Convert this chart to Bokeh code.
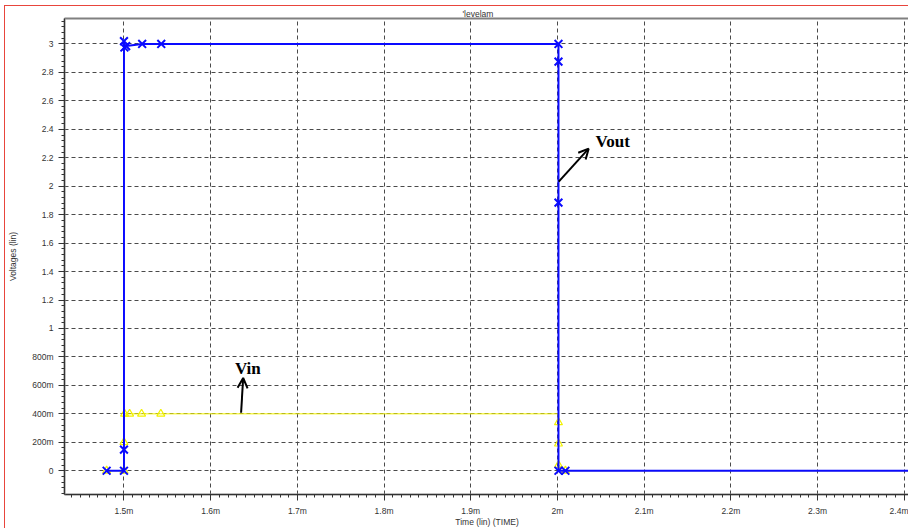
import numpy as np
from bokeh.plotting import figure
from bokeh.models import (LinearAxis, FixedTicker, Grid, Range1d, Arrow,
                          OpenHead, Label)
from bokeh.embed import file_html
from bokeh.resources import INLINE

# ---------------- data ----------------
title_text = "'levelam"
x_label = "Time (lin) (TIME)"
y_label = "Voltages (lin)"

x_ticks = [1.5, 1.6, 1.7, 1.8, 1.9, 2.0, 2.1, 2.2, 2.3, 2.4]
x_tick_labels = ["1.5m", "1.6m", "1.7m", "1.8m", "1.9m", "2m", "2.1m", "2.2m", "2.3m", "2.4m"]
y_ticks = [0.0, 0.2, 0.4, 0.6, 0.8, 1.0, 1.2, 1.4, 1.6, 1.8, 2.0, 2.2, 2.4, 2.6, 2.8, 3.0]
y_tick_labels = ["0", "200m", "400m", "600m", "800m", "1", "1.2", "1.4", "1.6", "1.8",
                 "2", "2.2", "2.4", "2.6", "2.8", "3"]

# Vout (blue, x markers) - time in ms, volts
vout_t = [1.48, 1.5, 1.5, 1.5, 1.5005, 1.5025, 1.521, 1.543, 2.0012, 2.0012, 2.0012, 2.0012, 2.0092, 2.45]
vout_v = [0.0, 0.0, 0.148, 3.02, 2.975, 2.985, 3.0, 3.0, 3.0, 2.876, 1.885, 0.0, 0.0, 0.0]
vout_mark_t = [1.48, 1.5, 1.5, 1.5, 1.5005, 1.5025, 1.521, 1.543, 2.0012, 2.0012, 2.0012, 2.0012, 2.0092]
vout_mark_v = [0.0, 0.0, 0.148, 3.02, 2.975, 2.985, 3.0, 3.0, 3.0, 2.876, 1.885, 0.0, 0.0]

# Vin (yellow, triangle markers)
vin_t = [1.48, 1.5, 1.5, 1.5007, 1.5065, 1.5203, 1.5425, 2.0005, 2.0012, 2.0012, 2.0012, 2.0092, 2.45]
vin_v = [0.0, 0.0, 0.2, 0.4, 0.4, 0.4, 0.4, 0.4, 0.34, 0.19, 0.04, 0.0, 0.0]
vin_mark_t = [1.48, 1.5, 1.5, 1.5007, 1.5065, 1.5203, 1.5425, 2.0012, 2.0012, 2.0012, 2.0092]
vin_mark_v = [0.0, 0.0, 0.2, 0.4, 0.4, 0.4, 0.4, 0.34, 0.19, 0.04, 0.0]

# annotations
vout_text = "Vout"
vout_text_pos = [2.044, 2.314]
vout_arrow = [2.0015, 2.032, 2.036, 2.264]
vin_text = "Vin"
vin_text_pos = [1.628, 0.716]
vin_arrow = [1.6351, 0.408, 1.6375, 0.652]

# ---------------- styling ----------------
BLUE = "#0a0aff"
YELLOW = "#f2f200"
FRAME = "#808080"
DARK = "#333333"
RED = "#e8453c"
FONT = "Liberation Sans"
FS = "8.5px"

p = figure(width=904, height=523,
           x_range=Range1d(1.4314, 2.4061), y_range=Range1d(-0.167, 3.179),
           x_axis_type=None, y_axis_type=None,
           output_backend="svg", toolbar_location=None,
           min_border_left=56, min_border_right=0, min_border_top=12, min_border_bottom=35)
p.outline_line_color = None
p.background_fill_color = "white"
p.border_fill_color = "white"
# red window border of the original screenshot
p.styles = {"border-top": "1px solid " + RED, "border-left": "1px solid " + RED,
            "margin-top": "5px", "margin-left": "4px"}

# title
p.title.text = title_text
p.title.align = "left"
p.title.offset = 398
p.title.text_font = FONT
p.title.text_font_size = FS
p.title.text_font_style = "normal"
p.title.text_color = DARK
p.title.standoff = 0

xt = FixedTicker(ticks=x_ticks, minor_ticks=[float(v) for v in np.round(np.arange(1.43, 2.4101, 0.01), 3)])
yt = FixedTicker(ticks=y_ticks, minor_ticks=[float(v) for v in np.round(np.arange(-0.16, 3.1801, 0.04), 3)])


def frame_axis(gap):
    return LinearAxis(ticker=FixedTicker(ticks=[]), axis_line_color=FRAME, axis_line_width=2,
                      major_tick_out=gap, major_tick_in=0, minor_tick_out=0, minor_tick_in=0,
                      major_tick_line_color=None, minor_tick_line_color=None,
                      major_label_text_font_size="0px", major_label_standoff=0)


def tick_axis(ticker, labels, ticks, axis_label, standoff, label_standoff):
    ax = LinearAxis(ticker=ticker, axis_label=axis_label,
                    axis_line_color=DARK, axis_line_width=1,
                    major_tick_out=6, major_tick_in=0, minor_tick_out=3, minor_tick_in=0,
                    major_tick_line_color=DARK, minor_tick_line_color=DARK,
                    major_label_text_font=FONT, major_label_text_font_size=FS,
                    major_label_text_color=DARK, major_label_standoff=standoff,
                    axis_label_text_font=FONT, axis_label_text_font_size=FS,
                    axis_label_text_font_style="normal", axis_label_text_color=DARK,
                    axis_label_standoff=label_standoff)
    ax.major_label_overrides = {t: l for t, l in zip(ticks, labels)}
    return ax


p.add_layout(frame_axis(5), "below")
p.add_layout(tick_axis(xt, x_tick_labels, x_ticks, x_label, 5, -2), "below")
p.add_layout(frame_axis(3), "left")
p.add_layout(tick_axis(yt, y_tick_labels, y_ticks, y_label, 5, 11), "left")
p.add_layout(frame_axis(0), "above")

p.add_layout(Grid(dimension=0, ticker=xt, grid_line_color="#4a4a4a", grid_line_dash="4 3", grid_line_width=1))
p.add_layout(Grid(dimension=1, ticker=yt, grid_line_color="#4a4a4a", grid_line_dash="4 3", grid_line_width=1))

# series
p.line(vin_t, vin_v, line_color=YELLOW, line_width=1)
p.scatter(vin_mark_t, vin_mark_v, marker="triangle", size=8, fill_color=None,
          line_color=YELLOW, line_width=1.2)
p.line(vout_t, vout_v, line_color=BLUE, line_width=2)
p.scatter(vout_mark_t, vout_mark_v, marker="x", size=11, line_color=BLUE, line_width=2)

# annotations
p.add_layout(Arrow(end=OpenHead(size=10, line_width=2, line_color="black"),
                   x_start=vout_arrow[0], y_start=vout_arrow[1],
                   x_end=vout_arrow[2], y_end=vout_arrow[3],
                   line_width=2, line_color="black"))
p.add_layout(Arrow(end=OpenHead(size=10, line_width=2, line_color="black"),
                   x_start=vin_arrow[0], y_start=vin_arrow[1],
                   x_end=vin_arrow[2], y_end=vin_arrow[3],
                   line_width=2, line_color="black"))
p.add_layout(Label(x=vout_text_pos[0], y=vout_text_pos[1], text=vout_text,
                   text_font="Liberation Serif", text_font_style="bold",
                   text_font_size="17px", text_baseline="middle", text_color="black"))
p.add_layout(Label(x=vin_text_pos[0], y=vin_text_pos[1], text=vin_text,
                   text_font="Liberation Serif", text_font_style="bold",
                   text_font_size="17px", text_baseline="middle", text_color="black"))

open("out.html", "w").write(file_html(p, INLINE))
